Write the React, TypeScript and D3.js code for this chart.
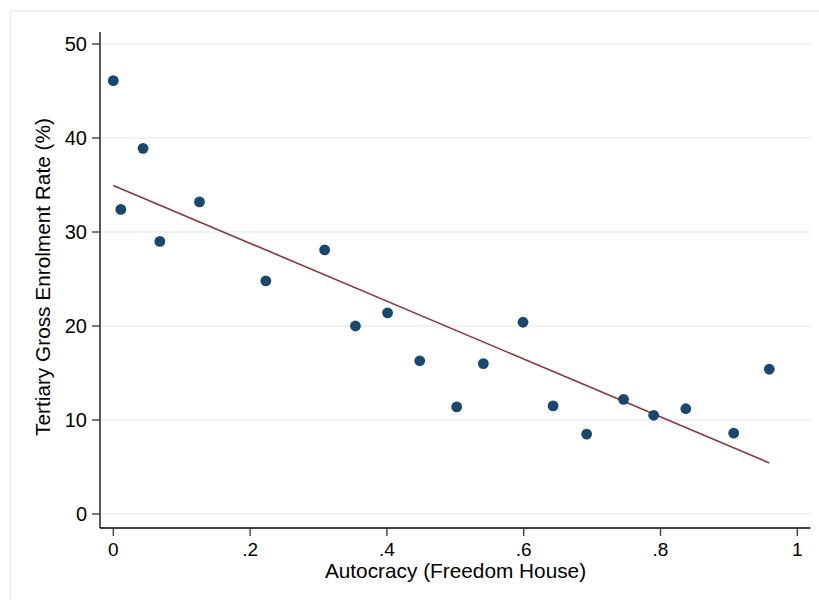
import React from "react";
import * as d3 from "d3";

const autocracy: number[] = [0, 0.011, 0.0435, 0.068, 0.126, 0.223, 0.309, 0.354, 0.401, 0.448, 0.502, 0.541, 0.599, 0.643, 0.692, 0.746, 0.79, 0.837, 0.907, 0.959];
const enrolment: number[] = [46.1, 32.4, 38.9, 29.0, 33.2, 24.8, 28.1, 20.0, 21.4, 16.3, 11.4, 16.0, 20.4, 11.5, 8.5, 12.2, 10.5, 11.2, 8.6, 15.4];
const xTicks: number[] = [0, 0.2, 0.4, 0.6, 0.8, 1];
const yTicks: number[] = [0, 10, 20, 30, 40, 50];
const xTitle = "Autocracy (Freedom House)";
const yTitle = "Tertiary Gross Enrolment Rate (%)";

const W = 819;
const H = 600;
const FONT = "'Liberation Sans', Arial, sans-serif";

function fmtX(v: number): string {
  if (v === 0) return "0";
  if (v === 1) return "1";
  return d3.format(".1f")(v).replace(/^0/, "");
}

export default function App() {
  const x = d3.scaleLinear().domain([0, 1]).range([113.3, 797.3]);
  const y = d3.scaleLinear().domain([0, 50]).range([514, 44]);

  // OLS fit
  const mx = d3.mean(autocracy) as number;
  const my = d3.mean(enrolment) as number;
  let sxy = 0, sxx = 0;
  autocracy.forEach((xv, i) => {
    sxy += (xv - mx) * (enrolment[i] - my);
    sxx += (xv - mx) * (xv - mx);
  });
  const slope = sxy / sxx;
  const intercept = my - slope * mx;
  const [xmin, xmax] = d3.extent(autocracy) as [number, number];
  const fitPts: [number, number][] = [
    [xmin, intercept + slope * xmin],
    [xmax, intercept + slope * xmax],
  ];
  const fitPath = d3.line<[number, number]>().x((d) => x(d[0])).y((d) => y(d[1]))(fitPts) || "";

  const plotLeft = 100;
  const plotRight = 810.5;
  const plotTop = 32;
  const plotBottom = 528;

  return (
    <svg width={W} height={H} style={{ position: "absolute", left: 0, top: 0, background: "#fff" }} fontFamily={FONT}>
      <rect x={0} y={0} width={W} height={H} fill="#fff" />
      <rect x={10.5} y={11} width={900} height={700} fill="none" stroke="#e6eef0" strokeWidth={1.5} />
      {yTicks.map((t) => (
        <line key={"g" + t} x1={plotLeft} x2={plotRight} y1={y(t)} y2={y(t)} stroke="#e8eff4" strokeWidth={1.5} />
      ))}
      <path d={fitPath} fill="none" stroke="#90353b" strokeWidth={1.6} />
      {autocracy.map((xv, i) => (
        <circle key={i} cx={x(xv)} cy={y(enrolment[i])} r={5.4} fill="#1a476f" />
      ))}
      <line x1={plotLeft} x2={plotLeft} y1={plotTop} y2={plotBottom} stroke="#000" strokeWidth={1.3} />
      <line x1={plotLeft} x2={plotRight} y1={plotBottom} y2={plotBottom} stroke="#000" strokeWidth={1.3} />
      {yTicks.map((t) => (
        <g key={"y" + t}>
          <line x1={92} x2={plotLeft} y1={y(t)} y2={y(t)} stroke="#333" strokeWidth={1.3} />
          <text x={87} y={y(t)} dy="0.35em" textAnchor="end" fontSize={20} fill="#000">
            {t}
          </text>
        </g>
      ))}
      {xTicks.map((t) => (
        <g key={"x" + t}>
          <line x1={x(t)} x2={x(t)} y1={plotBottom} y2={536} stroke="#333" strokeWidth={1.3} />
          <text x={x(t)} y={555.5} textAnchor="middle" fontSize={19} fill="#000">
            {fmtX(t)}
          </text>
        </g>
      ))}
      <text x={455.5} y={578} textAnchor="middle" fontSize={20.8} fill="#000">
        {xTitle}
      </text>
      <text transform={`translate(50,277) rotate(-90)`} textAnchor="middle" fontSize={20.8} fill="#000">
        {yTitle}
      </text>
    </svg>
  );
}
